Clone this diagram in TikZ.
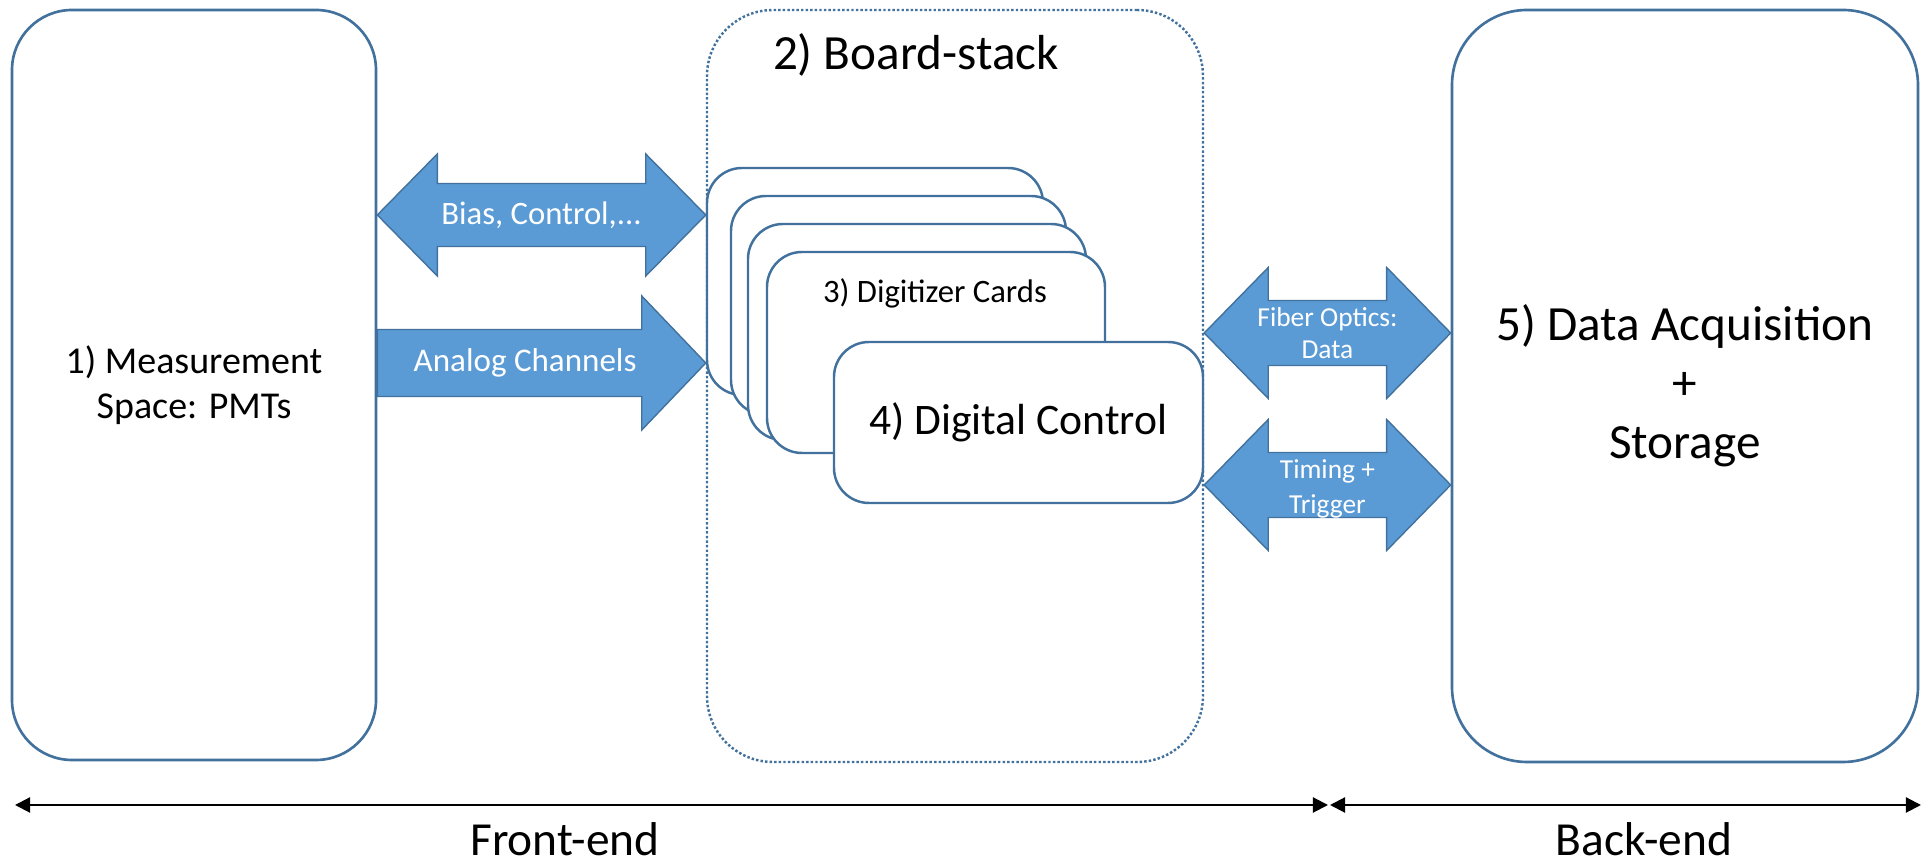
\documentclass[tikz,border=0pt]{standalone}
\usepackage{fontspec}
\setmainfont{Carlito}
\usetikzlibrary{calc,arrows.meta}

\definecolor{edgeblue}{HTML}{41719C}
\definecolor{fillblue}{HTML}{5B9BD5}

\tikzset{
  block/.style={draw=edgeblue, line width=0.75pt, fill=white, inner sep=0pt, align=center},
  stackbox/.style={draw=edgeblue, line width=0.7pt, dash pattern=on 0.7pt off 0.6pt, rounded corners=0.66cm, inner sep=0pt},
  card/.style={draw=edgeblue, line width=0.7pt, fill=white, rounded corners=0.35cm, inner sep=0pt},
  blockarrow/.style={draw=edgeblue, line width=0.4pt, fill=fillblue},
  arrowtxt/.style={text=white, inner sep=0pt, align=center},
  span/.style={{Triangle[length=4.3pt,width=4.3pt]}-{Triangle[length=4.3pt,width=4.3pt]}, line width=0.6pt}
}

% tips #1 and #2, shaft half width #3, head half width #4, head length #5
\newcommand{\twoway}[5]{%
  \draw[blockarrow] (#1) -- ++(#5,#4) -- ++(0,#3-#4) -- ($(#2)+(-#5,#3)$) -- ++(0,#4-#3) -- (#2)
    -- ++(-#5,-#4) -- ++(0,#4-#3) -- ($(#1)+(#5,-#3)$) -- ++(0,#3-#4) -- cycle;}
\newcommand{\oneway}[5]{%
  \draw[blockarrow] ($(#1)+(0,#3)$) -- ($(#2)+(-#5,#3)$) -- ++(0,#4-#3) -- (#2)
    -- ++(-#5,-#4) -- ++(0,#4-#3) -- ($(#1)+(0,-#3)$) -- cycle;}

\begin{document}
\begin{tikzpicture}
  \useasboundingbox (0,0) rectangle (19.21,8.66);
  \node[block, rounded corners=0.6cm, minimum width=3.64cm, minimum height=7.5cm, font=\fontsize{10.8}{12.8}\selectfont] (meas) at (1.94,4.81) {1) Measurement\\Space: PMTs};
  \node[stackbox, minimum width=4.96cm, minimum height=7.52cm] (stack) at (9.55,4.80) {};
  \node[anchor=base, inner sep=0pt, font=\fontsize{14}{16.8}\selectfont] (stacklbl) at (9.16,7.96) {2) Board-stack};
  \node[card, minimum width=3.36cm, minimum height=2.27cm] (card1) at (8.75,5.845) {};
  \node[card, minimum width=3.35cm, minimum height=2.19cm] (card2) at (8.985,5.605) {};
  \node[card, minimum width=3.38cm, minimum height=2.16cm] (card3) at (9.17,5.34) {};
  \node[card, minimum width=3.38cm, minimum height=2.01cm] (card4) at (9.36,5.135) {};
  \node[anchor=base, inner sep=0pt, font=\fontsize{9.3}{11}\selectfont] (cardlbl) at (9.35,5.63) {3) Digitizer Cards};
  \node[card, minimum width=3.69cm, minimum height=1.61cm, font=\fontsize{12.4}{15}\selectfont] (dctrl) at (10.185,4.435) {4) Digital Control};
  \node[block, rounded corners=0.75cm, minimum width=4.66cm, minimum height=7.52cm, font=\fontsize{14}{16.8}\selectfont] (daq) at (16.85,4.80) {5) Data Acquisition\\+\\Storage};

  \coordinate (biasL) at (meas.east |- 0,6.51);
  \coordinate (biasR) at (stack.west |- 0,6.51);
  \coordinate (anaL) at (meas.east |- 0,5.03);
  \coordinate (anaR) at (stack.west |- 0,5.03);
  \coordinate (fibL) at (stack.east |- 0,5.33);
  \coordinate (fibR) at (daq.west |- 0,5.33);
  \coordinate (timL) at (stack.east |- 0,3.81);
  \coordinate (timR) at (daq.west |- 0,3.81);
  \twoway{biasL}{biasR}{0.315}{0.61}{0.6}
  \oneway{anaL}{anaR}{0.335}{0.67}{0.64}
  \twoway{fibL}{fibR}{0.325}{0.655}{0.64}
  \twoway{timL}{timR}{0.325}{0.655}{0.64}
  \node[arrowtxt, font=\fontsize{9.3}{11}\selectfont] (biastxt) at ($(biasL)!0.5!(biasR)$) {Bias, Control,...};
  \node[arrowtxt, font=\fontsize{9.4}{11}\selectfont] (anatxt) at ($(anaL)!0.45!(anaR)$) {Analog Channels};
  \node[arrowtxt, font=\fontsize{7.8}{9.1}\selectfont] (fibtxt) at ($(fibL)!0.5!(fibR)$) {Fiber Optics:\\Data};
  \node[arrowtxt, font=\fontsize{7.8}{10}\selectfont, yshift=-0.04cm] (timtxt) at ($(timL)!0.5!(timR)$) {Timing +\\Trigger};

  \coordinate (feL) at (0.15,0.61);
  \coordinate (feR) at (13.28,0.61);
  \coordinate (beL) at (13.30,0.61);
  \coordinate (beR) at (19.21,0.61);
  \draw[span] (feL) -- (feR);
  \draw[span] (beL) -- (beR);
  \node[anchor=base, inner sep=0pt, font=\fontsize{13.5}{16}\selectfont] (fe) at (5.65,0.1) {Front-end};
  \node[anchor=base, inner sep=0pt, font=\fontsize{13.5}{16}\selectfont] (be) at (16.44,0.1) {Back-end};
\end{tikzpicture}
\end{document}
